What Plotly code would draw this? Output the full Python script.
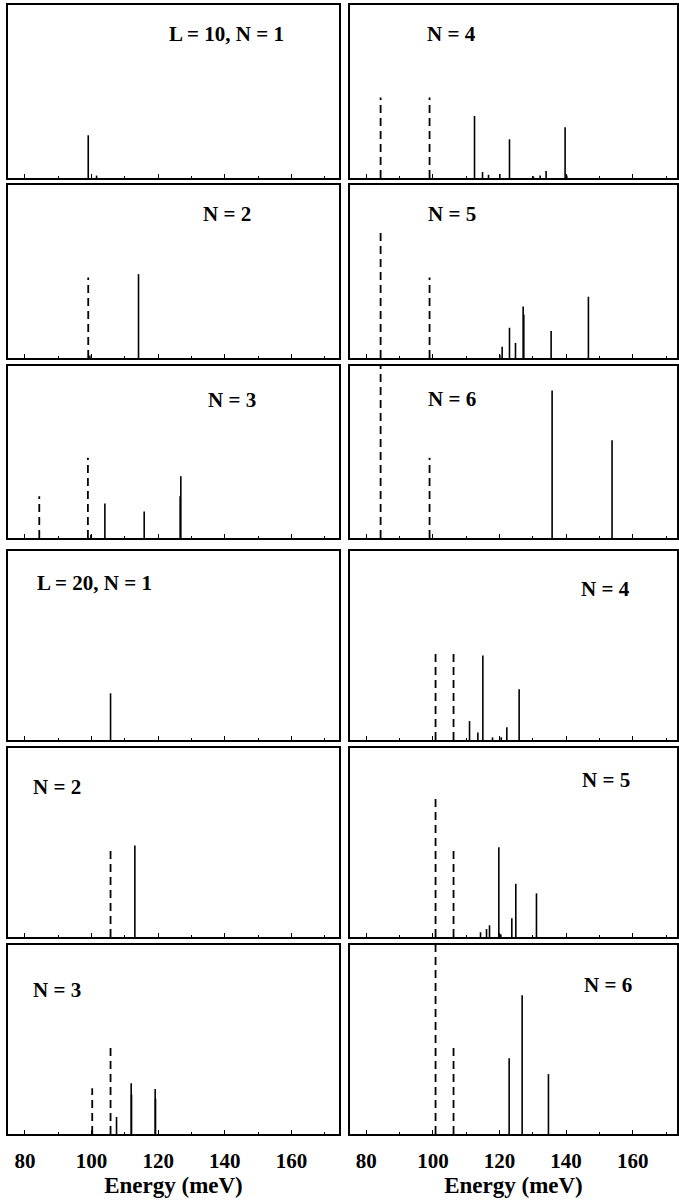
import plotly.graph_objects as go

# ---------------- data (energies in meV, intensities in arbitrary units) ----------------
panel_labels = ["L = 10, N = 1", "N = 4", "N = 2", "N = 5", "N = 3", "N = 6",
                "L = 20, N = 1", "N = 4", "N = 2", "N = 5", "N = 3", "N = 6"]

# L = 10
L10_N1_solid_E = [99.0, 101.5]
L10_N1_solid_I = [0.53, 0.03]
L10_N1_dash_E = []
L10_N1_dash_I = []

L10_N4_solid_E = [112.5, 114.9, 116.7, 120.1, 123.0, 130.2, 132.2, 134.0, 139.7, 140.2]
L10_N4_solid_I = [0.77, 0.075, 0.04, 0.05, 0.48, 0.02, 0.03, 0.086, 0.63, 0.03]
L10_N4_dash_E = [84.3, 99.0]
L10_N4_dash_I = [1.0, 1.0]

L10_N2_solid_E = [114.1, 99.5]
L10_N2_solid_I = [1.04, 0.03]
L10_N2_dash_E = [99.0]
L10_N2_dash_I = [1.0]

L10_N5_solid_E = [120.1, 120.8, 123.0, 124.8, 127.1, 127.3, 135.5, 146.7]
L10_N5_solid_I = [0.04, 0.14, 0.375, 0.187, 0.64, 0.54, 0.335, 0.76]
L10_N5_dash_E = [84.3, 99.0]
L10_N5_dash_I = [1.57, 1.0]

L10_N3_solid_E = [104.0, 115.8, 126.6, 126.8, 99.8]
L10_N3_solid_I = [0.43, 0.33, 0.52, 0.77, 0.04]
L10_N3_dash_E = [84.3, 98.9]
L10_N3_dash_I = [0.52, 1.0]

L10_N6_solid_E = [135.8, 153.8]
L10_N6_solid_I = [1.84, 1.22]
L10_N6_dash_E = [84.3, 99.0]
L10_N6_dash_I = [2.2, 1.0]

# L = 20
L20_N1_solid_E = [105.7]
L20_N1_solid_I = [0.53]
L20_N1_dash_E = []
L20_N1_dash_I = []

L20_N4_solid_E = [111.0, 113.5, 115.0, 117.9, 120.5, 122.2, 125.9]
L20_N4_solid_I = [0.215, 0.086, 0.96, 0.03, 0.03, 0.144, 0.575]
L20_N4_dash_E = [100.8, 106.2]
L20_N4_dash_I = [1.0, 1.0]

L20_N2_solid_E = [113.0]
L20_N2_solid_I = [1.04]
L20_N2_dash_E = [105.7]
L20_N2_dash_I = [1.0]

L20_N5_solid_E = [114.3, 116.1, 117.0, 119.8, 120.4, 123.7, 124.9, 131.1]
L20_N5_solid_I = [0.054, 0.09, 0.133, 1.02, 0.03, 0.212, 0.605, 0.496]
L20_N5_dash_E = [100.8, 106.2]
L20_N5_dash_I = [1.57, 1.0]

L20_N3_solid_E = [107.5, 111.9, 112.0, 119.1, 119.2]
L20_N3_solid_I = [0.193, 0.575, 0.45, 0.51, 0.40]
L20_N3_dash_E = [100.2, 105.7]
L20_N3_dash_I = [0.52, 1.0]

L20_N6_solid_E = [122.9, 126.8, 134.7]
L20_N6_solid_I = [0.86, 1.575, 0.68]
L20_N6_dash_E = [100.8, 106.2]
L20_N6_dash_I = [2.2, 1.0]

tick_values = [80, 100, 120, 140, 160]
tick_labels = ["80", "100", "120", "140", "160"]
x_title = "Energy (meV)"

panels = [
    (L10_N1_solid_E, L10_N1_solid_I, L10_N1_dash_E, L10_N1_dash_I),
    (L10_N4_solid_E, L10_N4_solid_I, L10_N4_dash_E, L10_N4_dash_I),
    (L10_N2_solid_E, L10_N2_solid_I, L10_N2_dash_E, L10_N2_dash_I),
    (L10_N5_solid_E, L10_N5_solid_I, L10_N5_dash_E, L10_N5_dash_I),
    (L10_N3_solid_E, L10_N3_solid_I, L10_N3_dash_E, L10_N3_dash_I),
    (L10_N6_solid_E, L10_N6_solid_I, L10_N6_dash_E, L10_N6_dash_I),
    (L20_N1_solid_E, L20_N1_solid_I, L20_N1_dash_E, L20_N1_dash_I),
    (L20_N4_solid_E, L20_N4_solid_I, L20_N4_dash_E, L20_N4_dash_I),
    (L20_N2_solid_E, L20_N2_solid_I, L20_N2_dash_E, L20_N2_dash_I),
    (L20_N5_solid_E, L20_N5_solid_I, L20_N5_dash_E, L20_N5_dash_I),
    (L20_N3_solid_E, L20_N3_solid_I, L20_N3_dash_E, L20_N3_dash_I),
    (L20_N6_solid_E, L20_N6_solid_I, L20_N6_dash_E, L20_N6_dash_I),
]

# ---------------- layout geometry (pixels) ----------------
W, H = 679, 1200
col_px = [(8, 340), (351, 679)]
col_range = [[74.9, 174.3], [75.1, 173.3]]
row_px = [(5, 178), (185, 358), (366, 538), (551, 740), (748, 937), (945, 1134)]
label_px = [(227, 34), (453, 34), (228, 214), (453, 214), (233, 400), (453, 399),
            (95, 583), (607, 589), (57, 787), (608, 780), (57, 990), (610, 985)]
y_top = 2.146

FONT = "Liberation Serif"


def sticks(E, I):
    xs, ys = [], []
    for e, i in zip(E, I):
        xs += [e, e, None]
        ys += [0, i, None]
    return xs, ys


fig = go.Figure()
layout = dict(
    width=W, height=H, margin=dict(l=0, r=0, t=0, b=0),
    paper_bgcolor="white", plot_bgcolor="white", showlegend=False,
    font=dict(family=FONT, color="black"),
)
annotations = []

for k, (sE, sI, dE, dI) in enumerate(panels):
    row, col = divmod(k, 2)
    n = k + 1
    xa = "x" if n == 1 else f"x{n}"
    ya = "y" if n == 1 else f"y{n}"
    xs, ys = sticks(dE, dI)
    if dE:
        fig.add_trace(go.Scatter(x=xs, y=ys, mode="lines", xaxis=xa, yaxis=ya,
                                 line=dict(color="black", width=1.8, dash="8px,5px"),
                                 hoverinfo="skip"))
    xs, ys = sticks(sE, sI)
    fig.add_trace(go.Scatter(x=xs, y=ys, mode="lines", xaxis=xa, yaxis=ya,
                             line=dict(color="black", width=1.6), hoverinfo="skip"))
    x0, x1 = col_px[col]
    t, b = row_px[row]
    bottom = row == 5
    layout[f"xaxis{'' if n == 1 else n}"] = dict(
        domain=[x0 / W, x1 / W], range=col_range[col], anchor=ya,
        showline=True, mirror=True, linecolor="black", linewidth=2,
        showgrid=False, zeroline=False,
        ticks="inside", ticklen=4, tickwidth=1, tickcolor="black",
        tickvals=tick_values, ticktext=tick_labels,
        minor=dict(ticks="inside", ticklen=2, tickwidth=1, tickcolor="black", dtick=10, tick0=80, showgrid=False),
        showticklabels=bottom,
        tickfont=dict(family=FONT, size=21, weight="bold", color="black"),
        ticklabelstandoff=7,
        title=dict(text=x_title if bottom else "", font=dict(family=FONT, size=23, weight="bold"), standoff=4),
        fixedrange=True,
    )
    layout[f"yaxis{'' if n == 1 else n}"] = dict(
        domain=[1 - b / H, 1 - t / H], range=[0, y_top], anchor=xa,
        showline=True, mirror=True, linecolor="black", linewidth=2,
        showgrid=False, zeroline=False, showticklabels=False, ticks="",
        fixedrange=True,
    )
    lx, ly = label_px[k]
    annotations.append(dict(
        text=panel_labels[k], x=lx / W, y=1 - ly / H, xref="paper", yref="paper",
        xanchor="center", yanchor="middle", showarrow=False,
        font=dict(family=FONT, size=21, weight="bold", color="black"),
    ))

layout["annotations"] = annotations
fig.update_layout(**layout)
fig.write_html("out.html")
